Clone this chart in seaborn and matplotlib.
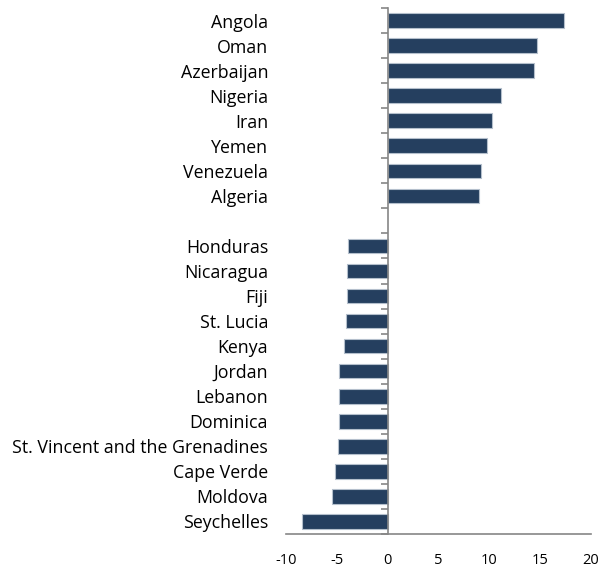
import matplotlib
matplotlib.use("Agg")
import matplotlib.pyplot as plt
from matplotlib.ticker import FixedLocator
import seaborn as sns
import pandas as pd
import numpy as np

top_countries = ['Angola', 'Oman', 'Azerbaijan', 'Nigeria', 'Iran', 'Yemen',
                 'Venezuela', 'Algeria']
top_values = [17.3, 14.7, 14.4, 11.1, 10.3, 9.8, 9.2, 8.95]

bottom_countries = ['Honduras', 'Nicaragua', 'Fiji', 'St. Lucia', 'Kenya', 'Jordan',
                    'Lebanon', 'Dominica', 'St. Vincent and the Grenadines',
                    'Cape Verde', 'Moldova', 'Seychelles']
bottom_values = [-3.9, -4.0, -4.0, -4.1, -4.25, -4.75, -4.75, -4.75, -4.9,
                 -5.15, -5.5, -8.4]

x_ticks = [-10, -5, 0, 5, 10, 15, 20]

df = pd.DataFrame({'country': top_countries + bottom_countries,
                   'value': top_values + bottom_values})
order = top_countries + [' '] + bottom_countries

sns.set_style('white')
plt.rcParams['font.family'] = ['Open Sans', 'DejaVu Sans']

fig = plt.figure(figsize=(6, 5.73), dpi=100)
ax = fig.add_axes([286 / 600, 39 / 573, 305 / 600, 526 / 573])

sns.barplot(data=df, x='value', y='country', order=order, orient='h',
            color='#253f5f', saturation=1, width=0.58,
            edgecolor='#b4bfcc', linewidth=0.8, ax=ax)

n = len(order)
ax.set_xlim(-10, 20)
ax.set_ylim(n - 0.5, -0.5)
ax.set_xticks(x_ticks)
ax.set_xticklabels([str(t) for t in x_ticks])
ax.set_xlabel('')
ax.set_ylabel('')

gray = '#868686'
for s in ['top', 'right']:
    ax.spines[s].set_visible(False)
ax.spines['left'].set_position(('data', 0))
ax.spines['left'].set_color(gray)
ax.spines['bottom'].set_color(gray)
ax.spines['left'].set_linewidth(1.2)
ax.spines['bottom'].set_linewidth(1.2)

ax.yaxis.set_minor_locator(FixedLocator(np.arange(n + 1) - 0.5))
ax.tick_params(axis='y', which='major', length=0, pad=86, labelsize=12.8,
               colors='black')
ax.tick_params(axis='y', which='minor', left=True, length=5, width=1.2,
               color=gray, direction='out')
ax.tick_params(axis='x', length=5, width=1.2, color=gray, direction='out',
               pad=9, labelsize=10.5, labelcolor='black')
ax.tick_params(axis='y', labelcolor='black')

fig.savefig('out.png', dpi=100)
